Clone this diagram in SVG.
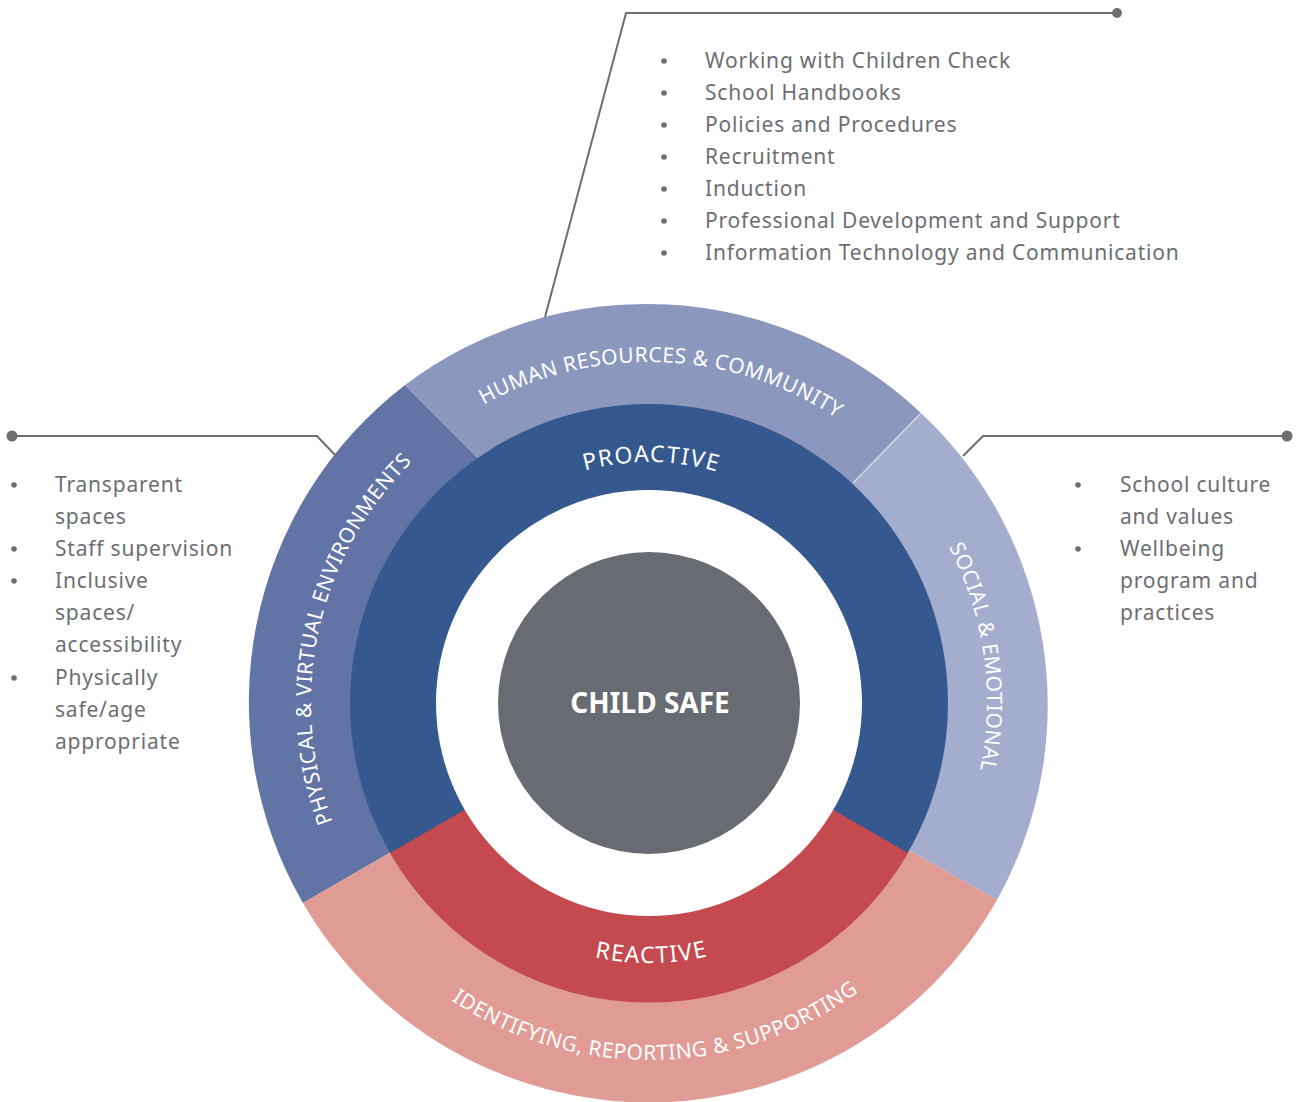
<svg xmlns="http://www.w3.org/2000/svg" xmlns:xlink="http://www.w3.org/1999/xlink" width="1298" height="1102" viewBox="0 0 1298 1102">
  <style>
    .list { font-family: "Noto Sans", "Liberation Sans", sans-serif; font-size: 21px; fill: #6d6e72; letter-spacing: 0.8px; }
    .bullet { fill: #6d6e72; }
    .callout { fill: none; stroke: #6d6e72; stroke-width: 2; }
    .dot { fill: #6d6e72; }
    .band { font-family: "Noto Sans", "Liberation Sans", sans-serif; font-size: 21px; fill: #ffffff; letter-spacing: 0.5px; }
    .core { font-family: "Noto Sans", "Liberation Sans", sans-serif; font-size: 23px; fill: #ffffff; letter-spacing: 1.5px; }
    .title { font-family: "Noto Sans", "Liberation Sans", sans-serif; font-size: 28px; font-weight: bold; fill: #ffffff; }
  </style>
  <defs>
    <!-- arcs around the centre (649,703) used as text baselines -->
    <path id="arcTop341" d="M308,703 A341,341 0 0 1 990,703"/>
    <path id="arcTop241" d="M408,703 A241,241 0 0 1 890,703"/>
    <path id="arcBot357" d="M292,703 A357,357 0 0 0 1006,703"/>
    <path id="arcBot260" d="M389,703 A260,260 0 0 0 909,703"/>
    <path id="arcRight338" d="M649,365 A338,338 0 0 1 649,1041"/>
    <path id="arcLeft338" d="M649,1041 A338,338 0 0 1 649,365"/>
  </defs>

  <!-- outer ring: four themes -->
  <g id="outer-ring">
    <path id="seg-physical" d="M649,703 L303,903 A400,400 0 0 1 405,385 L560,540 Z" fill="#6273a6"/>
    <path id="seg-human" d="M560,540 L405,385 A400,400 0 0 1 921,413 L649,703 Z" fill="#8b97bd"/>
    <path id="seg-social" d="M649,703 L921,413 A400,400 0 0 1 997,900 Z" fill="#a5adcf"/>
    <path id="seg-identifying" d="M649,703 L997,900 A400,400 0 0 1 303,903 Z" fill="#e09b95"/>
    <line x1="921" y1="413" x2="853" y2="483" stroke="#d3d8ea" stroke-width="1.5"/>
  </g>

  <!-- inner ring: proactive / reactive -->
  <g id="inner-ring">
    <circle id="proactive" cx="649" cy="703" r="299" fill="#35588f"/>
    <path id="reactive" d="M649,703 L390,853 A299,299 0 0 0 908,853 Z" fill="#c44a4f"/>
    <circle cx="649" cy="703" r="213" fill="#ffffff"/>
  </g>

  <g id="child-safe">
    <circle cx="649" cy="703" r="151" fill="#686b72"/>
    <text class="title" x="650" y="713" text-anchor="middle">CHILD SAFE</text>
  </g>

  <!-- ring labels -->
  <g id="ring-labels">
    <text class="band" transform="rotate(2.2 649 703)"><textPath xlink:href="#arcTop341" startOffset="50%" text-anchor="middle">HUMAN RESOURCES &amp; COMMUNITY</textPath></text>
    <text class="band" transform="rotate(-1.2 649 703)"><textPath xlink:href="#arcBot357" startOffset="50%" text-anchor="middle">IDENTIFYING, REPORTING &amp; SUPPORTING</textPath></text>
    <text class="band" transform="rotate(-8 649 703)"><textPath xlink:href="#arcRight338" startOffset="50%" text-anchor="middle">SOCIAL &amp; EMOTIONAL</textPath></text>
    <text class="band" transform="rotate(12.5 649 703)"><textPath xlink:href="#arcLeft338" startOffset="50%" text-anchor="middle">PHYSICAL &amp; VIRTUAL ENVIRONMENTS</textPath></text>
    <text class="core" transform="rotate(0.6 649 703)"><textPath xlink:href="#arcTop241" startOffset="50%" text-anchor="middle">PROACTIVE</textPath></text>
    <text class="core" transform="rotate(-0.6 649 703)"><textPath xlink:href="#arcBot260" startOffset="50%" text-anchor="middle">REACTIVE</textPath></text>
  </g>

  <!-- callout leaders -->
  <g id="connectors">
    <polyline class="callout" points="545,317 626,13 1117,13"/>
    <circle class="dot" cx="1117" cy="13" r="5"/>
    <polyline class="callout" points="336,456 317,436 12,436"/>
    <circle class="dot" cx="12" cy="436" r="5.5"/>
    <polyline class="callout" points="963,456 983,436 1287,436"/>
    <circle class="dot" cx="1287" cy="436" r="5.5"/>
  </g>

  <!-- human resources & community list -->
  <g id="list-human">
    <circle class="bullet" cx="664" cy="61" r="2.8"/>
    <circle class="bullet" cx="664" cy="93" r="2.8"/>
    <circle class="bullet" cx="664" cy="125" r="2.8"/>
    <circle class="bullet" cx="664" cy="157" r="2.8"/>
    <circle class="bullet" cx="664" cy="189" r="2.8"/>
    <circle class="bullet" cx="664" cy="221" r="2.8"/>
    <circle class="bullet" cx="664" cy="253" r="2.8"/>
    <text class="list" x="705" y="68">Working with Children Check</text>
    <text class="list" x="705" y="100">School Handbooks</text>
    <text class="list" x="705" y="132">Policies and Procedures</text>
    <text class="list" x="705" y="164">Recruitment</text>
    <text class="list" x="705" y="196">Induction</text>
    <text class="list" x="705" y="228">Professional Development and Support</text>
    <text class="list" x="705" y="260">Information Technology and Communication</text>
  </g>

  <!-- physical & virtual environments list -->
  <g id="list-physical">
    <circle class="bullet" cx="14" cy="485" r="2.8"/>
    <circle class="bullet" cx="14" cy="549" r="2.8"/>
    <circle class="bullet" cx="14" cy="581" r="2.8"/>
    <circle class="bullet" cx="14" cy="678" r="2.8"/>
    <text class="list" x="55" y="492">Transparent</text>
    <text class="list" x="55" y="524">spaces</text>
    <text class="list" x="55" y="556">Staff supervision</text>
    <text class="list" x="55" y="588">Inclusive</text>
    <text class="list" x="55" y="620">spaces/</text>
    <text class="list" x="55" y="652">accessibility</text>
    <text class="list" x="55" y="685">Physically</text>
    <text class="list" x="55" y="717">safe/age</text>
    <text class="list" x="55" y="749">appropriate</text>
  </g>

  <!-- social & emotional list -->
  <g id="list-social">
    <circle class="bullet" cx="1078" cy="485" r="2.8"/>
    <circle class="bullet" cx="1078" cy="549" r="2.8"/>
    <text class="list" x="1120" y="492">School culture</text>
    <text class="list" x="1120" y="524">and values</text>
    <text class="list" x="1120" y="556">Wellbeing</text>
    <text class="list" x="1120" y="588">program and</text>
    <text class="list" x="1120" y="620">practices</text>
  </g>
</svg>
